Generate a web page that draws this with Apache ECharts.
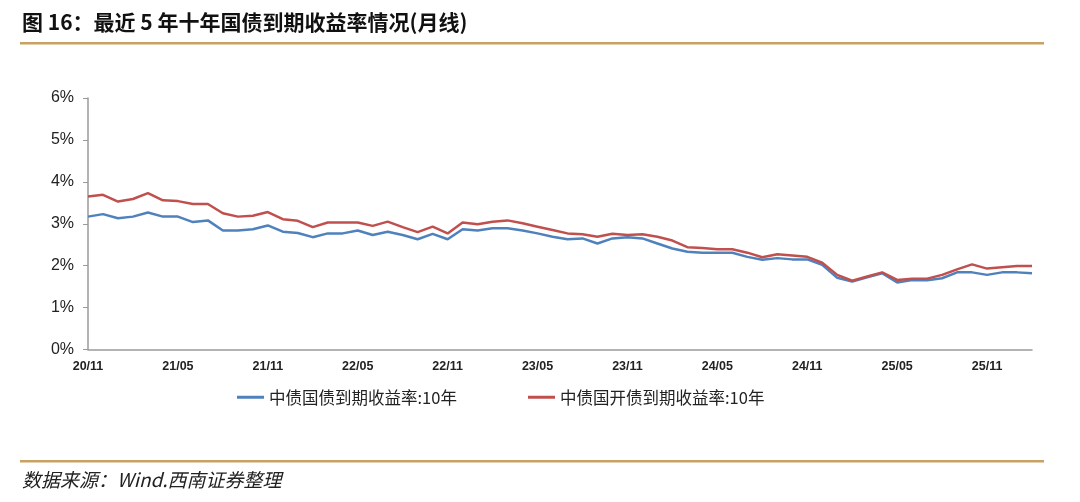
<!DOCTYPE html>
<html>
<head>
<meta charset="utf-8">
<script src="https://cdn.jsdelivr.net/npm/echarts@6/dist/echarts.min.js"></script>
<style>
html,body{margin:0;padding:0;background:#fff;}
#c{width:1080px;height:502px;}
</style>
</head>
<body>
<div id="c"></div>
<script>
const categories = [
  "20/11","20/12","21/01","21/02","21/03","21/04","21/05","21/06","21/07","21/08","21/09","21/10",
  "21/11","21/12","22/01","22/02","22/03","22/04","22/05","22/06","22/07","22/08","22/09","22/10",
  "22/11","22/12","23/01","23/02","23/03","23/04","23/05","23/06","23/07","23/08","23/09","23/10",
  "23/11","23/12","24/01","24/02","24/03","24/04","24/05","24/06","24/07","24/08","24/09","24/10",
  "24/11","24/12","25/01","25/02","25/03","25/04","25/05","25/06","25/07","25/08","25/09","25/10",
  "25/11","25/12","26/01","26/02"
];
const govYield = [
  3.17,3.23,3.13,3.17,3.27,3.17,3.17,3.04,3.08,2.84,2.84,2.87,
  2.96,2.81,2.78,2.68,2.77,2.77,2.84,2.73,2.81,2.73,2.63,2.76,
  2.63,2.87,2.84,2.89,2.89,2.84,2.77,2.69,2.63,2.65,2.53,2.65,
  2.68,2.65,2.53,2.41,2.33,2.31,2.31,2.31,2.21,2.14,2.18,2.15,
  2.15,2.02,1.71,1.62,1.72,1.82,1.60,1.66,1.65,1.70,1.84,1.84,
  1.78,1.84,1.84,1.82
];
const cdbYield = [
  3.65,3.69,3.53,3.59,3.73,3.56,3.54,3.47,3.47,3.25,3.17,3.19,
  3.28,3.11,3.07,2.92,3.03,3.03,3.03,2.95,3.05,2.92,2.80,2.93,
  2.77,3.03,2.99,3.05,3.08,3.01,2.93,2.85,2.77,2.75,2.69,2.76,
  2.73,2.75,2.69,2.60,2.44,2.42,2.39,2.39,2.31,2.20,2.27,2.24,
  2.21,2.07,1.78,1.64,1.74,1.84,1.66,1.69,1.69,1.78,1.91,2.03,
  1.93,1.96,1.99,1.99
];
const yTicks = [0,1,2,3,4,5,6];
const seriesNames = ["中债国债到期收益率:10年","中债国开债到期收益率:10年"];
const titleText = "图 16：最近 5 年十年国债到期收益率情况(月线)";
const sourceText = "数据来源：Wind.西南证券整理";

const chart = echarts.init(document.getElementById('c'), null, {renderer:'canvas'});
const legendText = {fontFamily:'"Noto Sans CJK SC", sans-serif', fontSize:16.5, color:'#222'};
chart.setOption({
  animation:false,
  backgroundColor:'#fff',
  grid:{left:88, right:48, top:98, bottom:152.5, containLabel:false},
  xAxis:{
    type:'category', data:categories, boundaryGap:false,
    axisLine:{lineStyle:{color:'#9a9a9a', width:1.5}},
    axisTick:{show:false},
    axisLabel:{interval:5, margin:11, fontFamily:'"Liberation Sans", Arial, sans-serif', fontSize:12.5, fontWeight:'bold', color:'#222'},
    splitLine:{show:false}
  },
  yAxis:{
    type:'value', min:yTicks[0], max:yTicks[yTicks.length-1], interval:1,
    axisLine:{show:true, lineStyle:{color:'#9a9a9a', width:1.5}},
    axisTick:{show:true, inside:false, length:5, lineStyle:{color:'#9a9a9a'}},
    axisLabel:{formatter:'{value}%', margin:14, fontFamily:'"Liberation Sans", Arial, sans-serif', fontSize:16, color:'#222'},
    splitLine:{show:false}
  },
  legend:[
    {data:[seriesNames[0]], left:232, top:384, itemWidth:27, itemHeight:3, icon:'rect', itemGap:0, textStyle:legendText},
    {data:[seriesNames[1]], left:523, top:384, itemWidth:27, itemHeight:3, icon:'rect', itemGap:0, textStyle:legendText}
  ],
  series:[
    {name:seriesNames[0], type:'line', data:govYield, showSymbol:false, smooth:false,
     lineStyle:{color:'#4f81bd', width:2.5}, itemStyle:{color:'#4f81bd'}},
    {name:seriesNames[1], type:'line', data:cdbYield, showSymbol:false, smooth:false,
     lineStyle:{color:'#c0504d', width:2.5}, itemStyle:{color:'#c0504d'}}
  ],
  graphic:[
    {type:'text', left:22, top:12, style:{text:titleText, font:'bold 21px "Noto Sans CJK SC", sans-serif', fill:'#111'}},
    {type:'rect', shape:{x:20, y:42, width:1024, height:2.5}, style:{fill:'#c8a165'}},
    {type:'rect', shape:{x:20, y:460, width:1024, height:2.5}, style:{fill:'#c8a165'}},
    {type:'text', left:22, top:470, style:{text:sourceText, font:'italic 19px "Noto Sans CJK SC", sans-serif', fill:'#222'}}
  ]
});
</script>
</body>
</html>
